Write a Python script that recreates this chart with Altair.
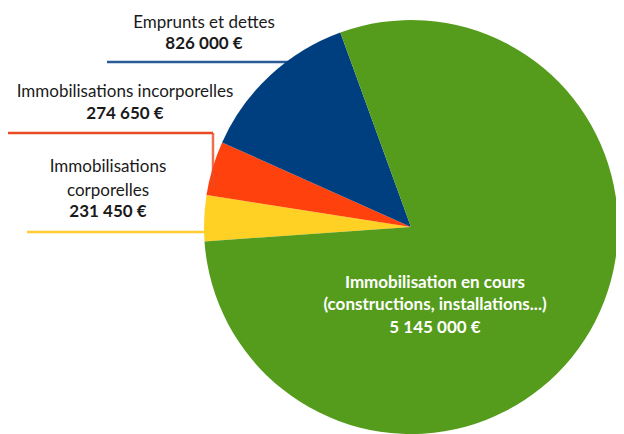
import math
import altair as alt
import pandas as pd

# ---- data ----
categories = ["Immobilisations corporelles", "Immobilisations incorporelles",
              "Emprunts et dettes", "Immobilisation en cours"]
values = [231450, 274650, 826000, 5145000]
colors = ["#FFD124", "#FF410E", "#003F7F", "#559C1C"]
value_labels = ["231 450 €", "274 650 €", "826 000 €", "5 145 000 €"]

# ---- layout (pixels in plot area) ----
W, H = 608, 426
CX, CY, R = 403, 219, 207
START = math.radians(266)
FONT = "Lato"
FS = 17

pie_df = pd.DataFrame({"cat": categories, "value": values, "ord": list(range(len(values)))})

pie = alt.Chart(pie_df).mark_arc(outerRadius=R, stroke=None).encode(
    x=alt.value(CX), y=alt.value(CY),
    theta=alt.Theta("value:Q", stack=True,
                    scale=alt.Scale(range=[START, START + 2 * math.pi])),
    order=alt.Order("ord:Q"),
    color=alt.Color("cat:N", scale=alt.Scale(domain=categories, range=colors), legend=None),
)

# leader lines
lines_df = pd.DataFrame({
    "x":  [99, -3, 205, 19],
    "x2": [290, 205, 205, 200],
    "y":  [54, 125, 125, 224],
    "y2": [54, 125, 180, 224],
    "c":  ["#2B5B97", "#E84B24", "#E84B24", "#FFCC33"],
    "layer": ["under", "under", "over", "under"],
})
rule_enc = dict(
    x=alt.X("x:Q", scale=None), x2="x2:Q",
    y=alt.Y("y:Q", scale=None), y2="y2:Q",
    color=alt.Color("c:N", scale=None),
)
rules_under = alt.Chart(lines_df).transform_filter("datum.layer == 'under'").mark_rule(strokeWidth=2.5).encode(**rule_enc)
rules_over = alt.Chart(lines_df).transform_filter("datum.layer == 'over'").mark_rule(strokeWidth=2.5, opacity=0.8).encode(**rule_enc)

# text annotations
txt_df = pd.DataFrame({
    "t": ["Emprunts et dettes", value_labels[2],
          "Immobilisations incorporelles", value_labels[1],
          "Immobilisations", "corporelles", value_labels[0],
          "Immobilisation en cours", "(constructions, installations...)", value_labels[3]],
    "x": [196, 196, 117, 117, 100, 100, 100, 427, 427, 427],
    "y": [15, 36, 84, 106, 159, 183, 204, 275, 297, 320],
    "bold": [0, 1, 0, 1, 0, 0, 1, 1, 1, 1],
    "c": ["#1a1a1a"] * 7 + ["#ffffff"] * 3,
})
txt_enc = dict(x=alt.X("x:Q", scale=None), y=alt.Y("y:Q", scale=None),
               text="t:N", color=alt.Color("c:N", scale=None))
txt_norm = alt.Chart(txt_df).transform_filter("datum.bold == 0").mark_text(
    font=FONT, fontSize=FS, align="center", baseline="middle").encode(**txt_enc)
txt_bold = alt.Chart(txt_df).transform_filter("datum.bold == 1").mark_text(
    font=FONT, fontSize=FS, fontWeight="bold", align="center", baseline="middle").encode(**txt_enc)

chart = alt.layer(rules_under, pie, rules_over, txt_norm, txt_bold).properties(
    width=W, height=H, padding=0, autosize=alt.AutoSizeParams(type="none"),
    background="white",
).configure_view(stroke=None)

chart.save("out.html", embed_options={"renderer": "svg", "actions": False})
